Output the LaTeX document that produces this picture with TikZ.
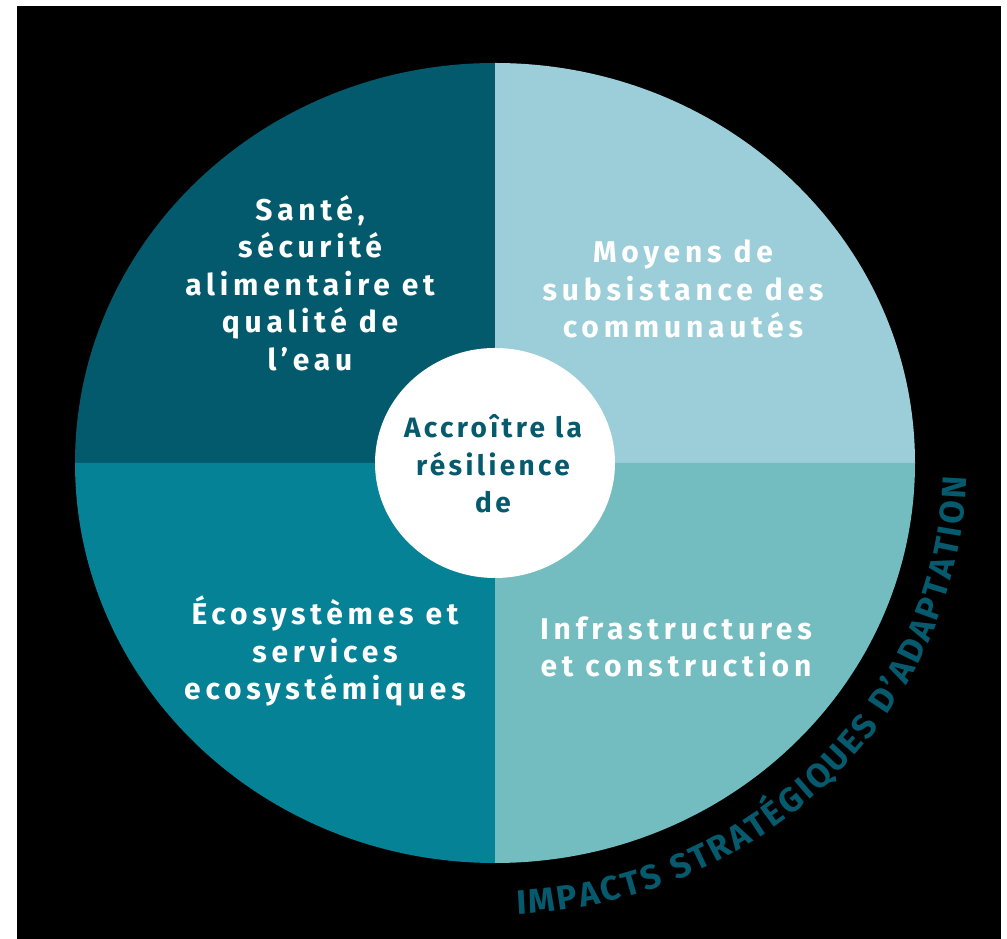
\documentclass[tikz,border=0pt]{standalone}
\usepackage{fontspec}
\setmainfont{Fira Sans}
\newfontfamily\wheelfont{Fira Sans}[LetterSpace=16]
\newfontfamily\hubfont{Fira Sans}[LetterSpace=12]
\newfontfamily\arcfont{Fira Sans}
\usetikzlibrary{decorations.text}

\definecolor{santecol}{HTML}{035A6C}
\definecolor{moyenscol}{HTML}{9BCED8}
\definecolor{infracol}{HTML}{73BCC0}
\definecolor{ecocol}{HTML}{058296}
\definecolor{titlecol}{HTML}{065A6E}

\tikzset{
  quadlabel/.style={text=white, align=center, inner sep=0pt,
    font=\wheelfont\bfseries\fontsize{30}{37.5}\selectfont},
  hublabel/.style={text=titlecol, align=center, inner sep=0pt,
    font=\hubfont\bfseries\fontsize{28}{37.5}\selectfont},
}

\begin{document}
\begin{tikzpicture}[x=1pt,y=1pt]

    \useasboundingbox (0,0) rectangle (1007,939);
    \fill[white] (0,0) rectangle (1007,939);
    \fill[black] (17,0) rectangle (1001,933);

    \coordinate (C) at (495,476);

    % the four quarters
    \fill[santecol] (C) -- ++(0,400) arc[start angle=90,end angle=180,x radius=420,y radius=400] -- cycle;
    \fill[moyenscol] (C) -- ++(420,0) arc[start angle=0,end angle=90,x radius=420,y radius=400] -- cycle;
    \fill[ecocol] (C) -- ++(-420,0) arc[start angle=180,end angle=270,x radius=420,y radius=400] -- cycle;
    \fill[infracol] (C) -- ++(0,-400) arc[start angle=270,end angle=360,x radius=420,y radius=400] -- cycle;

    \fill[white] (C) ellipse[x radius=120,y radius=115];

    \node[quadlabel] (sante) at (310,656) {Santé,\\sécurité\\alimentaire et\\qualité de\\l’eau};
    \node[quadlabel] (moyens) at (683,650) {Moyens de\\subsistance des\\communautés};
    \node[quadlabel] (eco) at (325,288) {Écosystèmes et\\services\\ecosystémiques};
    \node[quadlabel] (infra) at (676,292) {Infrastructures\\et construction};

    \node[hublabel] (hub) at (493,475) {Accroître la\\résilience\\de};

    % text round the wheel
    \coordinate (arcstart) at ([shift={(-87.3:472 and 452)}]C);
    \path[decorate,decoration={text along path,text align={fit to path},
        text={|\arcfont\bfseries\fontsize{34}{34}\selectfont\color{titlecol}|IMPACTS STRATÉGIQUES D’ADAPTATION}}]
        (arcstart) arc[start angle=-87.3,end angle=-1.9,x radius=472,y radius=452];

\end{tikzpicture}
\end{document}
